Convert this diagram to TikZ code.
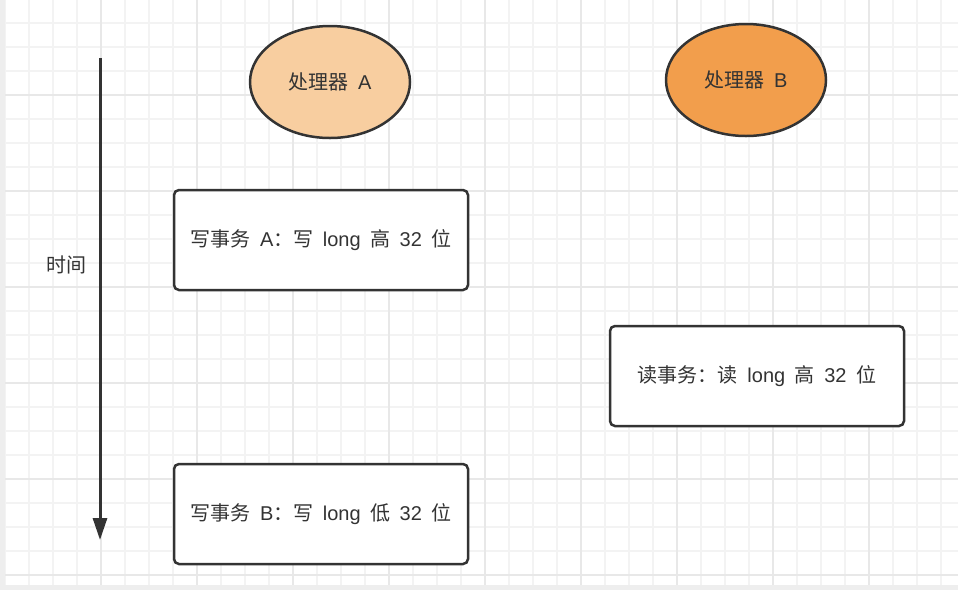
\documentclass[tikz,border=0pt]{standalone}
\usepackage{fontspec}
\setmainfont{Liberation Sans}
\newfontfamily\cjk{Noto Sans CJK SC}
\usetikzlibrary{arrows.meta,shapes.geometric}
\definecolor{ink}{HTML}{333333}
\definecolor{minorgrid}{HTML}{F3F3F3}
\definecolor{majorgrid}{HTML}{E8E8E8}
\definecolor{edgegray}{HTML}{EEEEEE}
\definecolor{procA}{HTML}{F8CEA0}
\definecolor{procB}{HTML}{F29E4C}
\newcommand{\zh}[1]{{\cjk #1}}
\newcommand{\gp}{\hspace{9.5pt}}
\tikzset{
  proc/.style={ellipse, draw=ink, line width=2.5pt, minimum width=160pt, minimum height=112pt, inner sep=0pt, text=ink, font=\fontsize{20}{24}\selectfont},
  txbox/.style={rectangle, rounded corners=5pt, draw=ink, line width=2.5pt, fill=white, minimum width=294pt, minimum height=100pt, inner sep=0pt, text=ink, font=\fontsize{20}{24}\selectfont},
  timeline/.style={draw=ink, line width=3pt, -{Triangle[length=22pt,width=14pt]}},
  lbl/.style={text=ink, font=\fontsize{20}{24}\selectfont, inner sep=0pt}
}
\begin{document}
\begin{tikzpicture}[x=1pt,y=-1pt]
\useasboundingbox (0,0) rectangle (958,590);
\fill[white] (0,0) rectangle (958,590);
% minor grid
\foreach \gx in {5,29,...,960} \draw[minorgrid, line width=1.3pt] (\gx,0) -- (\gx,585);
\foreach \gy in {23,47,...,590} \draw[minorgrid, line width=1.3pt] (5,\gy) -- (958,\gy);
% major grid
\foreach \gx in {101,197,...,960} \draw[majorgrid, line width=1.6pt] (\gx,0) -- (\gx,585);
\foreach \gy in {95,191,...,590} \draw[majorgrid, line width=1.6pt] (5,\gy) -- (958,\gy);
% canvas edges
\fill[edgegray] (0,0) rectangle (5,590);
\fill[edgegray] (0,585) rectangle (958,590);

\node[proc, fill=procA] (pa) at (330,82) {\zh{处理器}\gp A};
\node[proc, fill=procB] (pb) at (746,80) {\zh{处理器}\gp B};

\node[txbox] (wa) at (321,240) {\zh{写事务}\gp A\zh{：写}\gp long\gp\zh{高}\gp 32\gp\zh{位}};
\node[txbox] (rd) at (757,376) {\zh{读事务：读}\gp long\gp\zh{高}\gp 32\gp\zh{位}};
\node[txbox] (wb) at (321,514) {\zh{写事务}\gp B\zh{：写}\gp long\gp\zh{低}\gp 32\gp\zh{位}};

\coordinate (ts) at (100,58);
\coordinate (te) at (100,540);
\draw[timeline] (ts) -- (te);
\node[lbl] (tl) at (66,265) {\zh{时间}};
\end{tikzpicture}
\end{document}
